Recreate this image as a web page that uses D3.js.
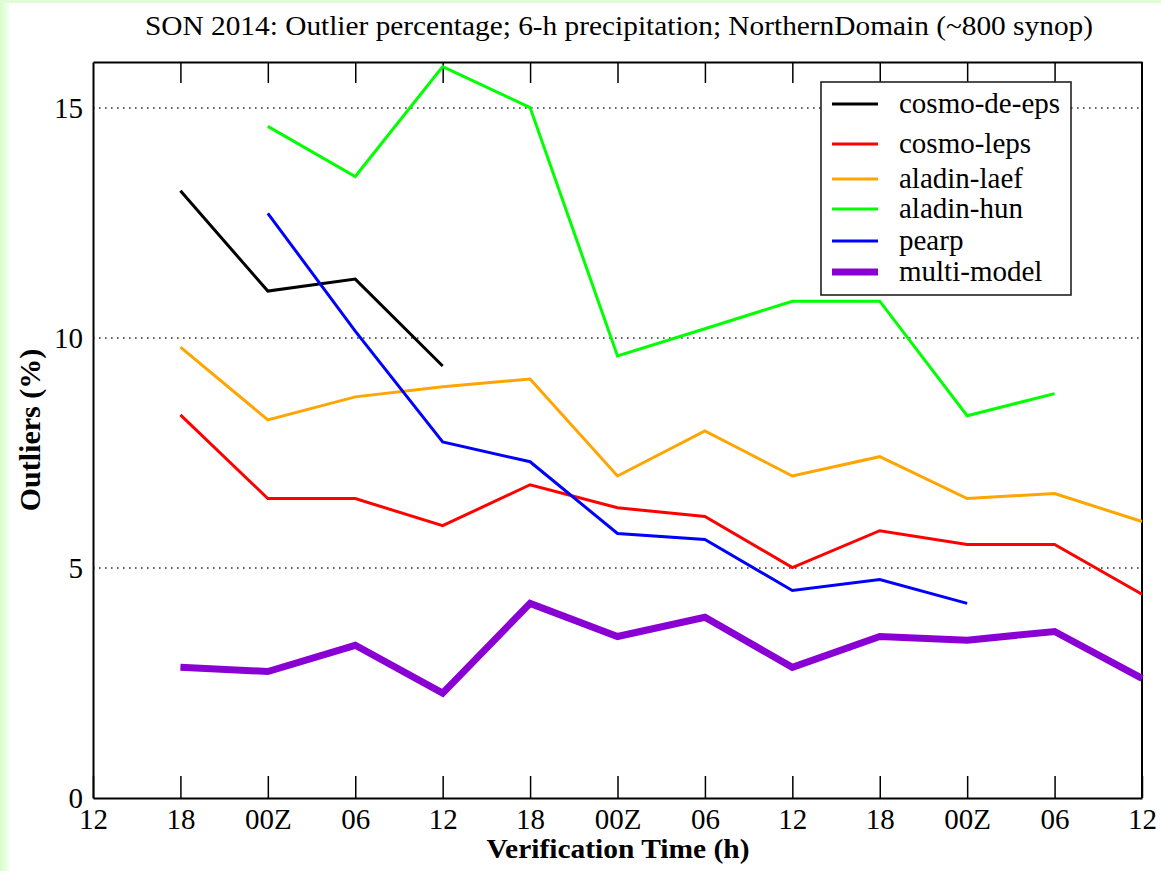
<!DOCTYPE html>
<html><head><meta charset="utf-8">
<script src="https://cdn.jsdelivr.net/npm/d3@7"></script>
<style>
html,body{margin:0;padding:0;background:#fff;}
svg{display:block;}
text{font-family:"Liberation Serif","DejaVu Serif",serif;}
</style></head>
<body>
<script>
const tickLabels = ["12","18","00Z","06","12","18","00Z","06","12","18","00Z","06","12"];
const seriesNames = ["cosmo-de-eps","cosmo-leps","aladin-laef","aladin-hun","pearp","multi-model"];
const seriesColors = ["#000000","#ff0000","#ffa500","#00ff00","#0000ff","#8a00d4"];
// values per time index (null = missing)
const cosmoDeEps = [null,13.2,11.02,11.28,9.39,null,null,null,null,null,null,null,null];
const cosmoLeps  = [null,8.33,6.51,6.51,5.92,6.81,6.31,6.12,5.01,5.81,5.51,5.51,4.43];
const aladinLaef = [null,9.8,8.22,8.72,8.94,9.11,7.0,7.98,7.0,7.42,6.51,6.62,6.01];
const aladinHun  = [null,null,14.6,13.51,15.9,15.01,9.61,10.2,10.8,10.8,8.31,8.79,null];
const pearp      = [null,null,12.71,10.15,7.74,7.31,5.75,5.62,4.51,4.75,4.23,null,null];
const multiModel = [null,2.84,2.75,3.32,2.28,4.23,3.51,3.93,2.84,3.51,3.43,3.62,2.6];
const yTicks = [0,5,10,15];
const gridValues = [5,10,15];

const allSeries = [cosmoDeEps,cosmoLeps,aladinLaef,aladinHun,pearp,multiModel];
const widths = [3,3,3,3,3,7];

const W=1161,H=871;
const m={left:93,top:62,right:1161-1142,bottom:871-798};
const svg=d3.select("body").append("svg").attr("width",W).attr("height",H);

// light green frame
const defs=svg.append("defs");
const gl=defs.append("linearGradient").attr("id","gl").attr("x1","0").attr("x2","1");
gl.append("stop").attr("offset","0").attr("stop-color","#d8fcc8");
gl.append("stop").attr("offset","1").attr("stop-color","#f2fff0");
svg.append("rect").attr("x",0).attr("y",0).attr("width",W).attr("height",H).attr("fill","#fff");
svg.append("rect").attr("x",0).attr("y",0).attr("width",9).attr("height",H).attr("fill","url(#gl)");
svg.append("rect").attr("x",0).attr("y",0).attr("width",W).attr("height",3).attr("fill","#e0fcd4");

const x=d3.scaleLinear().domain([0,12]).range([m.left,W-m.right]);
const y=d3.scaleLinear().domain([0,16]).range([H-m.bottom,m.top]);

// grid
svg.append("g").selectAll("line").data(gridValues).join("line")
  .attr("x1",x(0)).attr("x2",x(12)).attr("y1",d=>y(d)).attr("y2",d=>y(d))
  .attr("stroke","#333").attr("stroke-width",1.6).attr("stroke-dasharray","1.6,4.4");

// axes
const xb=svg.append("g").attr("transform",`translate(0,${y(0)})`)
  .call(d3.axisBottom(x).tickValues(d3.range(0,13)).tickFormat(i=>tickLabels[i]).tickSizeInner(-22).tickSizeOuter(0));
xb.selectAll("text").attr("font-size",29).attr("fill","#000").attr("dy",null).attr("y",31);
xb.selectAll("line").attr("stroke","#000").attr("stroke-width",1.5);
xb.select(".domain").attr("stroke","#000").attr("stroke-width",2);

const xt=svg.append("g").attr("transform",`translate(0,${y(16)})`)
  .call(d3.axisTop(x).tickValues(d3.range(1,12)).tickFormat("").tickSizeInner(-21).tickSizeOuter(0));
xt.selectAll("line").attr("stroke","#000").attr("stroke-width",1.5);
xt.select(".domain").attr("stroke","#000").attr("stroke-width",2);

const yl=svg.append("g").attr("transform",`translate(${x(0)},0)`)
  .call(d3.axisLeft(y).tickValues(yTicks).tickSize(0).tickPadding(10));
yl.selectAll("text").attr("font-size",29).attr("fill","#000");
yl.select(".domain").attr("stroke","#000").attr("stroke-width",2);
svg.append("line").attr("x1",x(12)).attr("x2",x(12)).attr("y1",y(0)).attr("y2",y(16)).attr("stroke","#000").attr("stroke-width",2);

// lines
const line=d3.line().defined(d=>d!=null).x((d,i)=>x(i)).y(d=>y(d));
const lg=svg.append("g");
allSeries.forEach((s,k)=>{
  lg.append("path").datum(s).attr("d",line).attr("fill","none")
    .attr("stroke",seriesColors[k]).attr("stroke-width",widths[k]).attr("stroke-linejoin","miter");
});

// legend
const leg=svg.append("g");
leg.append("rect").attr("x",821).attr("y",82).attr("width",250).attr("height",213)
  .attr("fill","#fff").attr("stroke","#222").attr("stroke-width",1.6);
const rowY=[104,144,179,209,241,272];
seriesNames.forEach((n,k)=>{
  leg.append("line").attr("x1",832).attr("x2",878).attr("y1",rowY[k]).attr("y2",rowY[k])
    .attr("stroke",seriesColors[k]).attr("stroke-width",widths[k]);
  leg.append("text").attr("x",899).attr("y",rowY[k]).attr("dy","0.3em").attr("font-size",29).text(n);
});

// titles
svg.append("text").attr("x",619).attr("y",35).attr("text-anchor","middle").attr("font-size",28)
  .attr("textLength",948).attr("lengthAdjust","spacingAndGlyphs")
  .text("SON 2014: Outlier percentage; 6-h precipitation; NorthernDomain (~800 synop)");
svg.append("text").attr("x",618).attr("y",858).attr("text-anchor","middle").attr("font-size",27).attr("font-weight","bold")
  .attr("textLength",263).attr("lengthAdjust","spacingAndGlyphs")
  .text("Verification Time (h)");
svg.append("text").attr("transform",`translate(40,430) rotate(-90)`).attr("text-anchor","middle").attr("font-size",30).attr("font-weight","bold")
  .text("Outliers (%)");
</script>
</body></html>
